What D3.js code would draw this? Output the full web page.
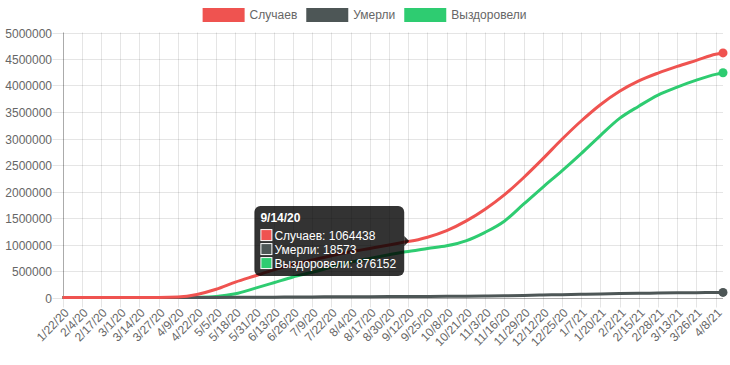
<!DOCTYPE html>
<html><head><meta charset="utf-8">
<script src="https://cdn.jsdelivr.net/npm/d3@7"></script>
<style>
body{margin:0;background:#fff}
text{font-family:"Liberation Sans",Arial,Helvetica,sans-serif}
</style>
</head><body>
<svg id="c" width="730" height="365"></svg>
<script>
// ---- data ----
const seriesNames = ["Случаев", "Умерли", "Выздоровели"];
const seriesColors = ["#ef5350", "#4d5656", "#2ecc71"];
const dates = ["1/22/20","2/4/20","2/17/20","3/1/20","3/14/20","3/27/20","4/9/20","4/22/20","5/5/20","5/18/20","5/31/20","6/13/20","6/26/20","7/9/20","7/22/20","8/4/20","8/17/20","8/30/20","9/12/20","9/14/20","9/25/20","10/8/20","10/21/20","11/3/20","11/16/20","11/29/20","12/12/20","12/25/20","1/7/21","1/20/21","2/2/21","2/15/21","2/28/21","3/13/21","3/26/21","4/8/21","4/13/21"];
const cases = [0,0,2,2,59,1036,10131,57999,155370,290678,405843,520129,620794,707301,789190,861423,925558,990326,1057362,1064438,1136048,1260112,1440000,1665000,1935000,2260000,2615000,2985000,3330000,3637862,3891613,4087066,4234720,4360823,4474610,4589209,4615000];
const deaths = [0,0,0,0,0,3,76,513,1451,2837,4693,6829,8781,10843,12745,14490,15951,17045,18484,18573,19799,21939,24952,28918,33491,39527,46404,53659,60457,67220,73182,78500,83000,87500,91500,95000,96500];
const recovered = [0,0,0,0,0,45,698,4891,19865,70209,171883,279000,388000,476000,573000,665000,738000,807000,870000,876152,925000,975000,1070000,1230000,1440000,1760000,2080000,2390000,2716000,3056000,3379000,3610000,3820000,3970000,4100000,4210000,4240000];
const xTickLabels = ["1/22/20","2/4/20","2/17/20","3/1/20","3/14/20","3/27/20","4/9/20","4/22/20","5/5/20","5/18/20","5/31/20","6/13/20","6/26/20","7/9/20","7/22/20","8/4/20","8/17/20","8/30/20","9/12/20","9/25/20","10/8/20","10/21/20","11/3/20","11/16/20","11/29/20","12/12/20","12/25/20","1/7/21","1/20/21","2/2/21","2/15/21","2/28/21","3/13/21","3/26/21","4/8/21"];
const yTicks = [0,500000,1000000,1500000,2000000,2500000,3000000,3500000,4000000,4500000,5000000];
const tooltipDate = "9/14/20";

// ---- chart ----
(function () {
const W = 730, H = 365;
const svg = d3.select("#c");
const parse = d3.utcParse("%m/%d/%y");
const dts = dates.map(parse);
const pl = 62.5, pr = 723, pt = 32.5, pb = 297.5;
const x = d3.scaleUtc().domain([dts[0], dts[dts.length-1]]).range([pl, pr]);
const y = d3.scaleLinear().domain([0, 5000000]).range([pb, pt]);
const font = "12px";
const grey = "#666";

const grid = svg.append("g");
yTicks.forEach(v => {
  const yy = Math.round(y(v)) + 0.5;
  grid.append("line").attr("x1", pl - 10).attr("x2", pr).attr("y1", yy).attr("y2", yy)
    .attr("stroke", "rgba(0,0,0,0.1)");
  svg.append("text").attr("x", 52).attr("y", yy).attr("dy", "0.35em")
    .attr("text-anchor", "end").attr("fill", grey).style("font-size", font)
    .text(d3.format("d")(v));
});
const tickDates = xTickLabels.map(parse);
tickDates.forEach((d, i) => {
  const xx = Math.round(x(d)) + 0.5;
  grid.append("line").attr("x1", xx).attr("x2", xx).attr("y1", pt).attr("y2", pb + 10)
    .attr("stroke", "rgba(0,0,0,0.1)");
  svg.append("text")
    .attr("transform", `translate(${xx + 3},${pb + 13}) rotate(-46)`)
    .attr("text-anchor", "end").attr("dy", "0.35em")
    .attr("fill", grey).style("font-size", font)
    .text(xTickLabels[i]);
});
const y0 = Math.round(y(0)) + 0.5, x0 = Math.round(pl) + 0.5;
svg.append("line").attr("x1", x0).attr("x2", pr).attr("y1", y0).attr("y2", y0).attr("stroke", "rgba(0,0,0,0.25)");
svg.append("line").attr("x1", x0).attr("x2", x0).attr("y1", pt).attr("y2", y0).attr("stroke", "rgba(0,0,0,0.25)");

const series = [cases, deaths, recovered];
const line = d3.line().x((d, i) => x(dts[i])).y(d => y(d)).curve(d3.curveMonotoneX);
[2, 1, 0].forEach(k => {
  svg.append("path").datum(series[k]).attr("d", line)
    .attr("fill", "none").attr("stroke", seriesColors[k]).attr("stroke-width", 3)
    .attr("stroke-linejoin", "round");
  const n = series[k].length - 1;
  svg.append("circle").attr("cx", x(dts[n])).attr("cy", y(series[k][n])).attr("r", 4.5)
    .attr("fill", seriesColors[k]);
});

const leg = svg.append("g");
const widths = seriesNames.map(s => {
  const t = svg.append("text").style("font-size", font).text(s);
  const w = t.node().getComputedTextLength(); t.remove(); return w;
});
const itemW = widths.map(w => 40 + 6 + w);
const total = d3.sum(itemW) + 10 * (itemW.length - 1);
let lx = W / 2 - total / 2;
seriesNames.forEach((s, i) => {
  leg.append("rect").attr("x", lx).attr("y", 9).attr("width", 40).attr("height", 12)
    .attr("fill", seriesColors[i]).attr("stroke", seriesColors[i]).attr("stroke-width", 2);
  leg.append("text").attr("x", lx + 46).attr("y", 15).attr("dy", "0.35em")
    .attr("fill", grey).style("font-size", font).text(s);
  lx += itemW[i] + 10;
});

const ti = dates.indexOf(tooltipDate);
const px = x(dts[ti]), py = y(cases[ti]);
const tip = svg.append("g");
const lines = seriesNames.map((s, k) => `${s}: ${series[k][ti]}`);
const tmp = lines.map(l => { const t = svg.append("text").style("font-size", font).text(l); const w = t.node().getComputedTextLength(); t.remove(); return w; });
const bw = 6 + 14 + d3.max(tmp) + 8, bh = 70;
const bx = px - 7 - bw, by = py - bh / 2;
tip.append("rect").attr("x", bx).attr("y", by).attr("width", bw).attr("height", bh).attr("rx", 6)
  .attr("fill", "rgba(0,0,0,0.8)");
tip.append("path").attr("d", `M${bx + bw},${py - 5}L${bx + bw + 5},${py}L${bx + bw},${py + 5}Z`).attr("fill", "rgba(0,0,0,0.8)");
tip.append("text").attr("x", bx + 6).attr("y", by + 15.5).attr("fill", "#fff")
  .style("font-size", font).style("font-weight", "bold").text(tooltipDate);
lines.forEach((l, k) => {
  const ly = by + 23 + k * 14;
  tip.append("rect").attr("x", bx + 6.5).attr("y", ly + 0.5).attr("width", 11).attr("height", 11)
    .attr("fill", seriesColors[k]).attr("stroke", "#fff").attr("stroke-width", 1);
  tip.append("text").attr("x", bx + 20).attr("y", ly + 10.5).attr("fill", "#fff")
    .style("font-size", font).text(l);
});
})();
</script>
</body></html>
